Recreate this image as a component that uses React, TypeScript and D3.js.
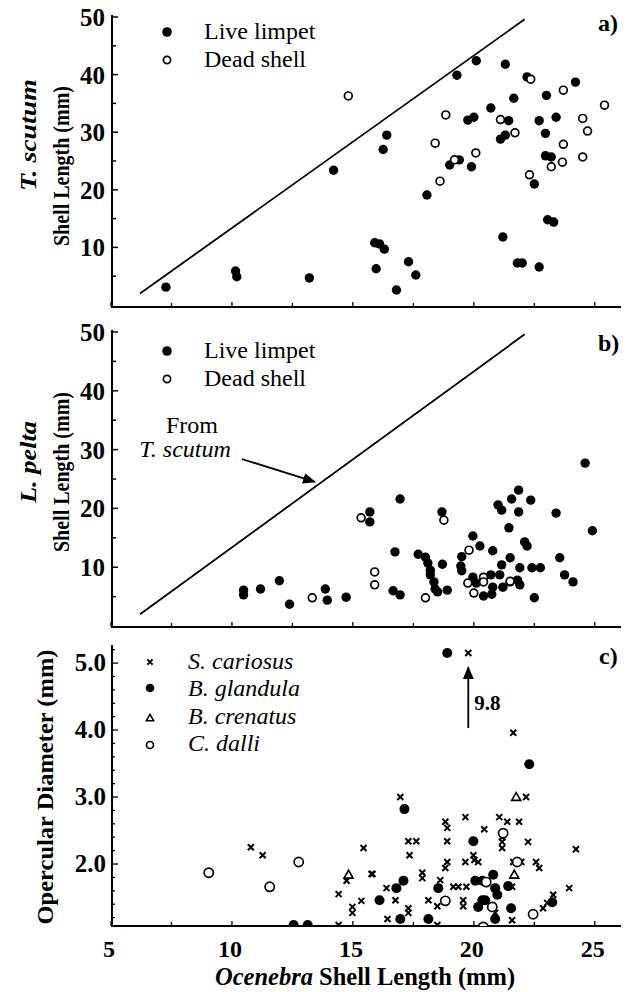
import React from "react";
import * as d3 from "d3";

const W = 626;
const H = 992;
const FONT = "'Liberation Serif', 'Times New Roman', serif";

// ---------- data ----------
const xTickLabels = [5, 10, 15, 20, 25];
const shellTickLabels = [10, 20, 30, 40, 50];
const operTickLabels = [2.0, 3.0, 4.0, 5.0];

// line drawn in a) and copied in b) ("From T. scutum")
const boundaryX = [6.2, 22.1];
const boundaryY = [2.0, 49.6];

const tscutumLive: [number, number][] = [
  [7.27, 3.1], [10.15, 5.9], [10.2, 4.9], [13.2, 4.7], [14.2, 23.4], [15.9, 10.8], [16.1, 10.6],
  [16.3, 9.7], [15.96, 6.3], [16.8, 2.6], [17.3, 7.5], [17.6, 5.2], [16.25, 27.0], [16.4, 29.5],
  [18.06, 19.1], [19.0, 24.3], [19.4, 25.2], [19.9, 24.0], [19.3, 39.9], [20.1, 42.4], [21.3, 41.8],
  [22.2, 39.6], [24.2, 38.7], [23.0, 36.4], [21.65, 35.9], [20.7, 34.2], [19.75, 32.1], [20.0, 32.6],
  [21.44, 32.0], [22.7, 32.0], [23.4, 32.6], [22.96, 29.8], [21.3, 29.5], [21.1, 28.8], [22.96, 25.9],
  [23.2, 25.7], [22.5, 21.0], [23.05, 14.8], [23.3, 14.4], [21.2, 11.8], [21.8, 7.3], [22.0, 7.3],
  [22.7, 6.6],
];
const tscutumDead: [number, number][] = [
  [14.81, 36.3], [22.35, 39.2], [23.7, 37.3], [25.4, 34.7], [18.84, 33.0], [21.1, 32.2], [24.5, 32.4],
  [24.7, 30.2], [21.7, 29.9], [18.4, 28.1], [23.7, 27.9], [20.08, 26.4], [23.66, 24.8], [24.5, 25.7],
  [23.2, 24.0], [19.2, 25.2], [18.6, 21.5], [22.3, 22.6],
];
const lpeltaLive: [number, number][] = [
  [10.48, 6.1], [10.48, 5.3], [11.18, 6.3], [11.96, 7.7], [12.38, 3.7], [13.86, 6.3], [13.94, 4.4],
  [14.72, 4.9], [15.7, 19.4], [15.7, 17.7], [16.95, 21.6], [18.68, 19.4], [24.6, 27.7], [21.85, 23.1],
  [21.56, 21.6], [22.35, 21.4], [21.0, 20.6], [21.15, 19.7], [21.85, 19.4], [23.4, 19.2], [24.9, 16.2],
  [21.45, 16.7], [19.96, 15.3], [20.25, 13.6], [22.1, 14.3], [22.2, 13.6], [20.78, 12.8], [16.74, 12.6],
  [17.7, 12.2], [18.0, 11.7], [19.5, 11.8], [21.5, 11.6], [23.55, 11.6], [18.1, 10.7], [18.7, 10.5],
  [19.46, 10.2], [21.15, 10.4], [21.9, 9.9], [22.4, 9.9], [22.75, 9.9], [18.2, 9.5], [18.2, 8.7],
  [23.75, 8.7], [24.1, 7.5], [19.5, 9.4], [19.96, 8.3], [20.1, 7.3], [20.7, 8.7], [21.07, 8.7],
  [21.5, 7.5], [21.8, 7.8], [21.9, 7.0], [18.35, 7.5], [18.4, 6.3], [18.5, 5.8], [18.9, 6.1],
  [20.4, 5.1], [20.74, 5.4], [20.78, 6.6], [21.2, 6.6], [16.66, 6.0], [16.95, 5.3], [22.5, 4.8],
];
const lpeltaDead: [number, number][] = [
  [15.34, 18.4], [15.9, 9.2], [15.9, 7.0], [13.32, 4.8], [18.76, 18.0], [19.8, 12.9], [20.4, 8.3],
  [20.4, 7.5], [21.5, 7.6], [19.75, 7.3], [20.0, 5.6], [18.0, 4.8],
];

const cariosus: [number, number][] = [
  [19.77, 5.15], [21.63, 3.96], [16.96, 3.0], [22.16, 3.0], [19.65, 2.7], [21.05, 2.7], [21.38, 2.63],
  [21.87, 2.63], [18.82, 2.63], [18.9, 2.54], [20.43, 2.52], [21.17, 2.4], [21.17, 2.33], [21.17, 2.24],
  [17.29, 2.34], [17.62, 2.34], [18.9, 2.34], [22.24, 2.33], [24.22, 2.22], [17.34, 2.13], [19.98, 2.13],
  [20.02, 2.06], [20.18, 2.03], [18.9, 2.03], [18.82, 1.94], [19.65, 2.03], [21.63, 2.03], [21.96, 2.03],
  [22.57, 2.03], [22.7, 1.94], [15.81, 1.85], [17.87, 1.87], [17.87, 1.79], [17.09, 1.76], [18.61, 1.76],
  [16.39, 1.64], [19.15, 1.66], [19.36, 1.66], [19.69, 1.66], [20.8, 1.84], [21.58, 1.66], [23.94, 1.64],
  [16.76, 1.46], [18.12, 1.46], [18.49, 1.37], [19.56, 1.46], [19.56, 1.37], [20.88, 1.27], [22.86, 1.34],
  [23.03, 1.42], [23.28, 1.54], [17.29, 1.34], [17.29, 1.27], [16.43, 1.18], [21.58, 1.16], [18.49, 1.09],
  [10.78, 2.25], [11.27, 2.13], [15.44, 2.24], [14.74, 1.75], [15.77, 1.85], [14.41, 1.55], [15.35, 1.45],
  [14.98, 1.36], [14.98, 1.27], [14.41, 1.09],
];
const glandula: [number, number][] = [
  [18.9, 5.15], [22.29, 3.49], [17.13, 2.82], [19.98, 2.34], [17.09, 1.75], [18.53, 1.64], [16.8, 1.64],
  [20.06, 1.75], [20.35, 1.75], [20.8, 1.84], [20.88, 1.64], [20.97, 1.54], [21.42, 1.67], [16.1, 1.46],
  [20.35, 1.46], [20.47, 1.46], [20.18, 1.36], [21.54, 1.34], [23.24, 1.43], [16.96, 1.18], [18.12, 1.18],
  [20.88, 1.18], [12.55, 1.09], [13.13, 1.09],
];
const crenatus: [number, number][] = [
  [21.75, 3.0], [21.67, 1.84], [14.82, 1.84],
];
const dalli: [number, number][] = [
  [9.04, 1.87], [12.76, 2.03], [11.56, 1.66], [21.21, 2.46], [20.51, 1.73], [21.79, 2.03], [18.82, 1.45],
  [20.76, 1.36], [22.45, 1.25], [20.39, 1.06],
];

// off-scale S. cariosus point
const offscaleX = 19.77;
const offscaleLabel = "9.8";

// ---------- scales ----------
const AX = 112; // left axis position
const x = d3.scaleLinear().domain([5, 26]).range([111, 619]);
const yA = d3.scaleLinear().domain([0, 50]).range([305, 17]);
const yB = d3.scaleLinear().domain([0, 50]).range([626, 332]);
const yC = d3.scaleLinear().domain([1.0746, 5.27]).range([926, 645]);

const xMinor = d3.range(5, 26.01, 2.5);

function Filled({ cx, cy, r = 4.7 }: { cx: number; cy: number; r?: number }) {
  return <circle cx={cx} cy={cy} r={r} fill="#000" />;
}
function Open({ cx, cy, r = 3.9 }: { cx: number; cy: number; r?: number }) {
  return <circle cx={cx} cy={cy} r={r} fill="#fff" stroke="#000" strokeWidth={1.7} />;
}
function Cross({ cx, cy, s = 3 }: { cx: number; cy: number; s?: number }) {
  return (
    <path
      d={`M${cx - s},${cy - s}L${cx + s},${cy + s}M${cx - s},${cy + s}L${cx + s},${cy - s}`}
      stroke="#000"
      strokeWidth={2}
      fill="none"
    />
  );
}
function Tri({ cx, cy, s = 4.5 }: { cx: number; cy: number; s?: number }) {
  return (
    <path
      d={`M${cx},${cy - s}L${cx + s},${cy + s * 0.75}L${cx - s},${cy + s * 0.75}Z`}
      fill="#fff"
      stroke="#000"
      strokeWidth={1.6}
    />
  );
}

function XAxis({ yPos, labels }: { yPos: number; labels: boolean }) {
  return (
    <g>
      <line x1={AX - 1} x2={621} y1={yPos} y2={yPos} stroke="#000" strokeWidth={2} />
      {xMinor.map((t) => (
        <line key={t} x1={x(t)} x2={x(t)} y1={yPos} y2={yPos - (t % 5 === 0 ? 5 : 4)} stroke="#000" strokeWidth={1.3} />
      ))}
      {labels &&
        xTickLabels.map((t) => (
          <text key={t} x={x(t) - 2} y={957} textAnchor="middle" fontFamily={FONT} fontWeight="bold" fontSize={24}>
            {t}
          </text>
        ))}
    </g>
  );
}

function ShellYAxis({ y, bottom }: { y: d3.ScaleLinear<number, number>; bottom: number }) {
  const ticks = d3.range(5, 50.01, 5);
  return (
    <g>
      <line x1={AX} x2={AX} y1={y(50) - 2} y2={bottom} stroke="#000" strokeWidth={2} />
      {ticks.map((t) => (
        <line key={t} x1={AX} x2={AX + (t % 10 === 0 ? 6 : 4)} y1={y(t)} y2={y(t)} stroke="#000" strokeWidth={1.5} />
      ))}
      {shellTickLabels.map((t) => (
        <text key={t} x={AX - 7} y={y(t) + 9} textAnchor="end" fontFamily={FONT} fontWeight="bold" fontSize={25}>
          {t}
        </text>
      ))}
    </g>
  );
}

function OperYAxis() {
  const ticks = d3.range(1.2, 5.21, 0.2).map((v) => Math.round(v * 10) / 10);
  return (
    <g>
      <line x1={AX} x2={AX} y1={yC.range()[1]} y2={yC.range()[0]} stroke="#000" strokeWidth={2} />
      {ticks.map((t) => (
        <line
          key={t}
          x1={AX}
          x2={AX + (Math.abs(t - Math.round(t)) < 0.01 ? 6 : 3)}
          y1={yC(t)}
          y2={yC(t)}
          stroke="#000"
          strokeWidth={1.3}
        />
      ))}
      {operTickLabels.map((t) => (
        <text key={t} x={AX - 6} y={yC(t) + 8} textAnchor="end" fontFamily={FONT} fontWeight="bold" fontSize={25}>
          {t.toFixed(1)}
        </text>
      ))}
    </g>
  );
}

function LimpetLegend({ top }: { top: number }) {
  return (
    <g fontFamily={FONT} fontSize={24}>
      <Filled cx={167} cy={top} r={4.8} />
      <text x={204} y={top + 7}>Live limpet</text>
      <Open cx={167} cy={top + 28} r={3.6} />
      <text x={204} y={top + 35}>Dead shell</text>
    </g>
  );
}

function Boundary({ y }: { y: d3.ScaleLinear<number, number> }) {
  const line = d3
    .line<number>()
    .x((_, i) => x(boundaryX[i]))
    .y((_, i) => y(boundaryY[i]));
  return <path d={line(boundaryX) || ""} fill="none" stroke="#000" strokeWidth={1.8} />;
}

export default function App() {
  const arrowX = x(offscaleX);
  return (
    <svg width={W} height={H} style={{ position: "absolute", left: 0, top: 0, background: "#fff" }}>
      <rect width={W} height={H} fill="#fff" />
      <defs>
        <clipPath id="clipC">
          <rect x={AX} y={600} width={520} height={yC.range()[0] - 600} />
        </clipPath>
        <marker id="ah" viewBox="0 0 12 10" refX="11" refY="5" markerWidth="13" markerHeight="11" markerUnits="userSpaceOnUse" orient="auto">
          <path d="M0,0L12,5L0,10Z" fill="#000" />
        </marker>
      </defs>

      {/* ---------- panel a ---------- */}
      <g>
        <ShellYAxis y={yA} bottom={307} />
        <XAxis yPos={307} labels={false} />
        <Boundary y={yA} />
        {tscutumLive.map(([a, b], i) => (
          <Filled key={"al" + i} cx={x(a)} cy={yA(b)} />
        ))}
        {tscutumDead.map(([a, b], i) => (
          <Open key={"ad" + i} cx={x(a)} cy={yA(b)} />
        ))}
        <LimpetLegend top={32} />
        <text x={598} y={31} fontFamily={FONT} fontWeight="bold" fontSize={24}>a)</text>
        <text transform="translate(36,135) rotate(-90)" textAnchor="middle" fontFamily={FONT} fontWeight="bold" fontStyle="italic" fontSize={24} textLength={112} lengthAdjust="spacingAndGlyphs">
          T. scutum
        </text>
        <text transform="translate(69,166) rotate(-90)" textAnchor="middle" fontFamily={FONT} fontWeight="bold" fontSize={24} textLength={160} lengthAdjust="spacingAndGlyphs">
          Shell Length (mm)
        </text>
      </g>

      {/* ---------- panel b ---------- */}
      <g>
        <ShellYAxis y={yB} bottom={627} />
        <XAxis yPos={627} labels={false} />
        <Boundary y={yB} />
        {lpeltaLive.map(([a, b], i) => (
          <Filled key={"bl" + i} cx={x(a)} cy={yB(b)} />
        ))}
        {lpeltaDead.map(([a, b], i) => (
          <Open key={"bd" + i} cx={x(a)} cy={yB(b)} />
        ))}
        <LimpetLegend top={351} />
        <text x={598} y={351} fontFamily={FONT} fontWeight="bold" fontSize={24}>b)</text>
        <text x={192} y={433} textAnchor="middle" fontFamily={FONT} fontSize={24}>From</text>
        <text x={185} y={457} textAnchor="middle" fontFamily={FONT} fontStyle="italic" fontSize={24}>T. scutum</text>
        <line x1={x(10.41)} y1={yB(28.4)} x2={x(13.43)} y2={yB(24.5)} stroke="#000" strokeWidth={1.8} markerEnd="url(#ah)" />
        <text transform="translate(36,462) rotate(-90)" textAnchor="middle" fontFamily={FONT} fontWeight="bold" fontStyle="italic" fontSize={24} textLength={82} lengthAdjust="spacingAndGlyphs">
          L. pelta
        </text>
        <text transform="translate(69,472) rotate(-90)" textAnchor="middle" fontFamily={FONT} fontWeight="bold" fontSize={24} textLength={160} lengthAdjust="spacingAndGlyphs">
          Shell Length (mm)
        </text>
      </g>

      {/* ---------- panel c ---------- */}
      <g>
        <OperYAxis />
        <XAxis yPos={926} labels={true} />
        <g clipPath="url(#clipC)">
          {cariosus.map(([a, b], i) => (
            <Cross key={"cc" + i} cx={x(a)} cy={yC(b)} />
          ))}
          {glandula.map(([a, b], i) => (
            <Filled key={"cg" + i} cx={x(a)} cy={yC(b)} r={5} />
          ))}
          {crenatus.map(([a, b], i) => (
            <Tri key={"ct" + i} cx={x(a)} cy={yC(b)} />
          ))}
          {dalli.map(([a, b], i) => (
            <Open key={"cd" + i} cx={x(a)} cy={yC(b)} r={4.6} />
          ))}
        </g>
        <line x1={arrowX} x2={arrowX} y1={yC(4.03)} y2={yC(4.94)} stroke="#000" strokeWidth={1.8} markerEnd="url(#ah)" />
        <text x={arrowX + 6} y={yC(4.3)} fontFamily={FONT} fontWeight="bold" fontSize={21}>{offscaleLabel}</text>
        <text x={599} y={664} fontFamily={FONT} fontWeight="bold" fontSize={24}>c)</text>
        <g fontFamily={FONT} fontStyle="italic" fontSize={24}>
          <Cross cx={150} cy={662} s={2.6} />
          <text x={188} y={669}>S. cariosus</text>
          <Filled cx={150} cy={688} r={4.3} />
          <text x={188} y={696}>B. glandula</text>
          <Tri cx={150} cy={718} s={3.6} />
          <text x={188} y={724}>B. crenatus</text>
          <Open cx={150} cy={745} r={3.5} />
          <text x={188} y={751}>C. dalli</text>
        </g>
        <text transform="translate(53,787) rotate(-90)" textAnchor="middle" fontFamily={FONT} fontWeight="bold" fontSize={23} textLength={275} lengthAdjust="spacingAndGlyphs">
          Opercular Diameter (mm)
        </text>
        <text x={365} y={985} textAnchor="middle" fontFamily={FONT} fontWeight="bold" fontSize={24.5}>
          <tspan fontStyle="italic">Ocenebra</tspan> Shell Length (mm)
        </text>
      </g>
    </svg>
  );
}
